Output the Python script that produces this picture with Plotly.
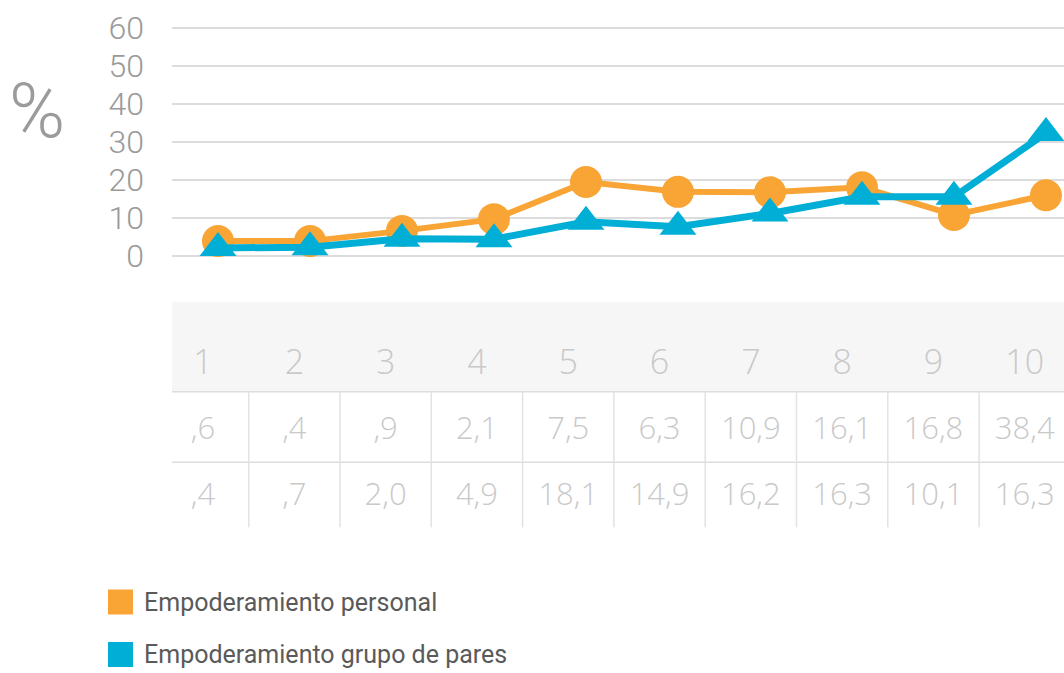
import plotly.graph_objects as go

# ---- data ----
categories = [1, 2, 3, 4, 5, 6, 7, 8, 9, 10]
personal = [3.8, 3.8, 6.5, 9.6, 19.4, 16.8, 16.7, 18.0, 10.7, 15.9]
pares = [2.0, 2.2, 4.4, 4.3, 8.9, 7.6, 11.1, 15.5, 15.5, 32.3]
table_pares = [0.6, 0.4, 0.9, 2.1, 7.5, 6.3, 10.9, 16.1, 16.8, 38.4]
table_personal = [0.4, 0.7, 2.0, 4.9, 18.1, 14.9, 16.2, 16.3, 10.1, 16.3]
y_ticks = [0, 10, 20, 30, 40, 50, 60]
series_names = ["Empoderamiento personal", "Empoderamiento grupo de pares"]

ORANGE = "#F9A535"
BLUE = "#00AED6"
W, H = 1064, 673
NARROW = "Liberation Sans Narrow, Roboto, sans-serif"
OPEN = "Open Sans, Noto Sans, sans-serif"


def fmt(v):
    s = f"{v:.1f}".replace(".", ",")
    if s.startswith("0,"):
        s = s[1:]
    return s


def py(px):
    return 1 - px / H


def pxx(px):
    return px / W


fig = go.Figure()

# line chart
fig.add_trace(go.Scatter(
    x=categories, y=personal, mode="lines+markers", name=series_names[0],
    line=dict(color=ORANGE, width=6),
    marker=dict(symbol="circle", size=32, color=ORANGE),
    showlegend=False, xaxis="x", yaxis="y", cliponaxis=False))
fig.add_trace(go.Scatter(
    x=categories, y=pares, mode="lines+markers", name=series_names[1],
    line=dict(color=BLUE, width=7),
    marker=dict(symbol="triangle-up", size=32, color=BLUE),
    showlegend=False, xaxis="x", yaxis="y", cliponaxis=False))

# table text
TXT = dict(family=OPEN, size=31, color="#c9c9c9", weight=300)
fig.add_trace(go.Scatter(
    x=categories, y=[0] * len(categories), mode="text",
    text=[str(c) for c in categories],
    textfont=dict(family=OPEN, size=34, color="#c9c9c9", weight=300),
    showlegend=False, hoverinfo="skip", xaxis="x2", yaxis="y2"))
fig.add_trace(go.Scatter(
    x=categories, y=[-1] * len(categories), mode="text",
    text=[fmt(v) for v in table_pares], textfont=TXT,
    showlegend=False, hoverinfo="skip", xaxis="x2", yaxis="y2"))
fig.add_trace(go.Scatter(
    x=categories, y=[-2] * len(categories), mode="text",
    text=[fmt(v) for v in table_personal], textfont=TXT,
    showlegend=False, hoverinfo="skip", xaxis="x2", yaxis="y2"))

# table geometry (y2 units: header row = 0, rows at -1, -2)
shapes = []
shapes.append(dict(type="rect", xref="x2 domain", yref="y2", x0=0, x1=1, y0=-0.405, y1=0.959,
                   fillcolor="#f6f6f6", line=dict(width=0), layer="below"))
for yy in (-0.405, -1.474):
    shapes.append(dict(type="line", xref="x2 domain", yref="y2", x0=0, x1=1, y0=yy, y1=yy,
                       line=dict(color="#dedede", width=1.5)))
for c in categories[:-1]:
    shapes.append(dict(type="line", xref="x2", yref="y2", x0=c + 0.5, x1=c + 0.5, y0=-0.405, y1=-2.459,
                       line=dict(color="#e2e2e2", width=1.5)))

# legend (squares + labels)
annotations = []
legend_rows = [(ORANGE, series_names[0], 602), (BLUE, series_names[1], 654.5)]
for col, name, yc in legend_rows:
    shapes.append(dict(type="rect", xref="paper", yref="paper",
                       x0=pxx(108), x1=pxx(133), y0=py(yc - 12.5), y1=py(yc + 12.5),
                       fillcolor=col, line=dict(width=0)))
    annotations.append(dict(text=name, xref="paper", yref="paper", x=pxx(142), y=py(yc),
                            xanchor="left", yanchor="middle", showarrow=False,
                            font=dict(family=NARROW, size=25, color="#5a5a5a")))

annotations.append(dict(text="%", xref="paper", yref="paper", x=pxx(37), y=py(111),
                        xanchor="center", yanchor="middle", showarrow=False,
                        font=dict(family=NARROW, size=76, color="#9b9b9b", weight=300)))

fig.update_layout(
    width=W, height=H,
    margin=dict(l=0, r=0, t=0, b=0),
    paper_bgcolor="white", plot_bgcolor="rgba(0,0,0,0)",
    showlegend=False,
    xaxis=dict(domain=[pxx(172), 1], range=[0.5, 10.196], showgrid=False, zeroline=False,
               showticklabels=False, showline=False, anchor="y", fixedrange=True),
    yaxis=dict(domain=[py(290), py(10)], range=[-9.10, 64.78], tickvals=y_ticks,
               ticktext=[str(t) for t in y_ticks], showgrid=True, gridcolor="#dcdcdc", gridwidth=2,
               zeroline=False, showline=False, ticks="", ticklabelstandoff=27,
               tickfont=dict(family=NARROW, size=32, color="#9a9a9a", weight=300), anchor="x"),
    xaxis2=dict(domain=[pxx(172), 1], range=[0.66, 10.43], showgrid=False, zeroline=False,
                showticklabels=False, showline=False, anchor="y2"),
    yaxis2=dict(domain=[py(535), py(295)], range=[-2.5758, 1.0606], showgrid=False, zeroline=False,
                showticklabels=False, showline=False, anchor="x2"),
    shapes=shapes,
    annotations=annotations,
)

# remove the default 8px page margin so the figure fills the window exactly
fig.write_html("out.html", config={"displayModeBar": False},
               post_script="document.body.style.margin='0';document.body.style.overflow='hidden';")
